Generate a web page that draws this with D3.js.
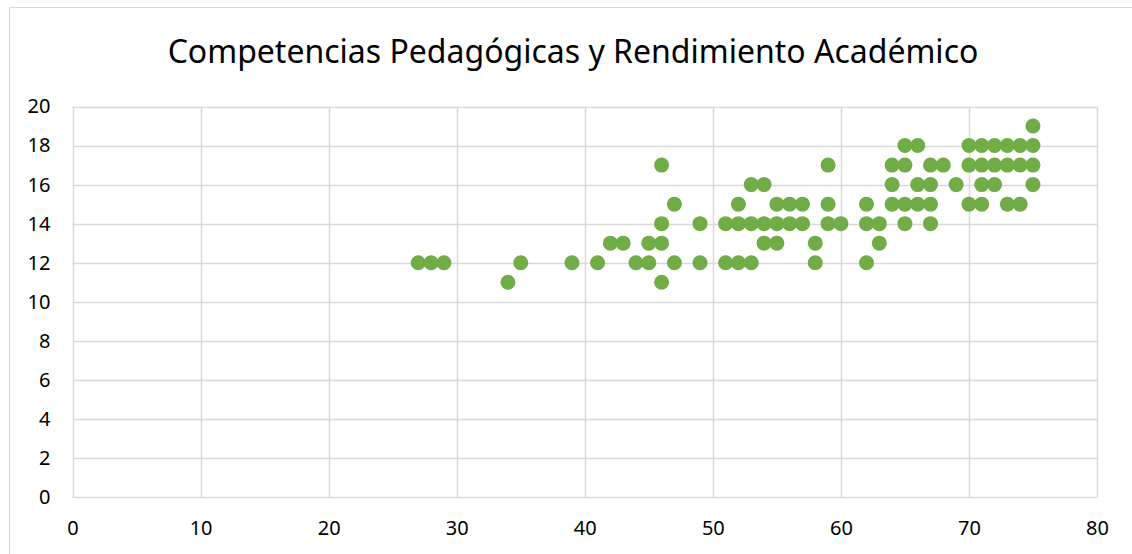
<!DOCTYPE html>
<html>
<head>
<meta charset="utf-8">
<script src="https://cdn.jsdelivr.net/npm/d3@7"></script>
<style>
  body { margin: 0; background: #fff; }
  svg { display: block; }
</style>
</head>
<body>
<div id="chart"></div>
<script>
// competencias pedagogicas (x) vs rendimiento academico (y)
var compX = [
  75,
  65, 66, 70, 71, 72, 73, 74, 75,
  46, 59, 64, 65, 67, 68, 70, 71, 72, 73, 74, 75,
  53, 54, 64, 66, 67, 69, 71, 72, 75,
  47, 52, 55, 56, 57, 59, 62, 64, 65, 66, 67, 70, 71, 73, 74,
  46, 49, 51, 52, 53, 54, 55, 56, 57, 59, 60, 62, 63, 65, 67,
  42, 43, 45, 46, 54, 55, 58, 63,
  27, 28, 29, 35, 39, 41, 44, 45, 47, 49, 51, 52, 53, 58, 62,
  34, 46
]
var rendY = [
  19,
  18, 18, 18, 18, 18, 18, 18, 18,
  17, 17, 17, 17, 17, 17, 17, 17, 17, 17, 17, 17,
  16, 16, 16, 16, 16, 16, 16, 16, 16,
  15, 15, 15, 15, 15, 15, 15, 15, 15, 15, 15, 15, 15, 15, 15,
  14, 14, 14, 14, 14, 14, 14, 14, 14, 14, 14, 14, 14, 14, 14,
  13, 13, 13, 13, 13, 13, 13, 13,
  12, 12, 12, 12, 12, 12, 12, 12, 12, 12, 12, 12, 12, 12, 12,
  11, 11
]
var xTicks = [0, 10, 20, 30, 40, 50, 60, 70, 80]
var yTicks = [0, 2, 4, 6, 8, 10, 12, 14, 16, 18, 20]
var title = "Competencias Pedagógicas y Rendimiento Académico"

var width = 1132
var height = 554
var margin = {top: 106.5, right: 35, bottom: 57, left: 72.5}
var font = "'Noto Sans', 'Open Sans', sans-serif"
var gridColor = "#d9d9d9"

var data = compX.map((d, i) => ({x: d, y: rendY[i]}))

var svg = d3.select("#chart")
  .append("svg")
  .attr("width", width)
  .attr("height", height)

// chart frame
svg.append("rect")
  .attr("x", 9.5)
  .attr("y", 7.5)
  .attr("width", width + 20)
  .attr("height", height + 20)
  .attr("fill", "none")
  .attr("stroke", gridColor)

var x = d3.scaleLinear()
  .domain([0, 80])
  .range([margin.left, width - margin.right])

var y = d3.scaleLinear()
  .domain([0, 20])
  .range([height - margin.bottom, margin.top])

// gridlines
svg.append("g")
  .selectAll("line")
  .data(yTicks)
  .join("line")
  .attr("x1", x(0))
  .attr("x2", x(80))
  .attr("y1", d => Math.round(y(d)) + 0.5)
  .attr("y2", d => Math.round(y(d)) + 0.5)
  .attr("stroke", gridColor)
  .attr("stroke-width", 1.5)

svg.append("g")
  .selectAll("line")
  .data(xTicks)
  .join("line")
  .attr("x1", d => Math.round(x(d)) + 0.5)
  .attr("x2", d => Math.round(x(d)) + 0.5)
  .attr("y1", y(0))
  .attr("y2", y(20))
  .attr("stroke", gridColor)
  .attr("stroke-width", 1.5)

// axes, labels only
var xAxis = svg.append("g")
  .attr("transform", "translate(0," + y(0) + ")")
  .call(d3.axisBottom(x).tickValues(xTicks).tickSize(0).tickPadding(24))
xAxis.select(".domain").remove()
xAxis.selectAll("text")
  .attr("font-family", font)
  .attr("font-size", 20)
  .attr("fill", "#000")

var yAxis = svg.append("g")
  .attr("transform", "translate(" + x(0) + ",0)")
  .call(d3.axisLeft(y).tickValues(yTicks).tickSize(0).tickPadding(22))
yAxis.select(".domain").remove()
yAxis.selectAll("text")
  .attr("font-family", font)
  .attr("font-size", 20)
  .attr("fill", "#000")

// points
svg.append("g")
  .selectAll("circle")
  .data(data)
  .join("circle")
  .attr("cx", d => x(d.x))
  .attr("cy", d => y(d.y))
  .attr("r", 7.5)
  .attr("fill", "#70ad47")

// title, sized to the reference width
var t = svg.append("text")
  .attr("x", 573)
  .attr("y", 63)
  .attr("text-anchor", "middle")
  .attr("font-family", font)
  .attr("font-size", 34)
  .attr("fill", "#000")
  .text(title)
var w = t.node().getComputedTextLength()
t.attr("font-size", 34 * 811 / w)
</script>
</body>
</html>
